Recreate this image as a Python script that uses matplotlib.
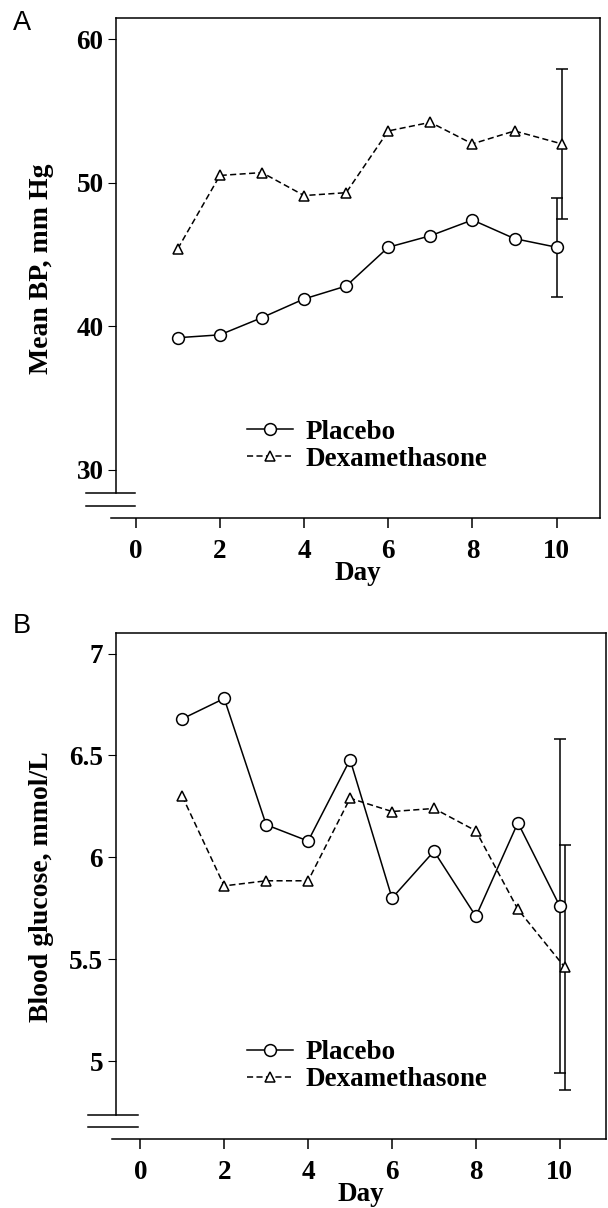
import numpy as np
import matplotlib
matplotlib.use('Agg')
import matplotlib.pyplot as plt

plt.rcParams['font.family'] = 'Liberation Serif'
plt.rcParams['font.weight'] = 'bold'

# data
days = [1, 2, 3, 4, 5, 6, 7, 8, 9, 10]
days_dexa = [1, 2, 3, 4, 5, 6, 7, 8, 9, 10.12]

bp_placebo = [39.2, 39.4, 40.6, 41.9, 42.8, 45.5, 46.3, 47.4, 46.1, 45.5]
bp_dexa = [45.4, 50.5, 50.7, 49.1, 49.3, 53.6, 54.2, 52.7, 53.6, 52.7]
bp_err_placebo = 3.45
bp_err_dexa = 5.2

glu_placebo = [6.68, 6.78, 6.16, 6.08, 6.48, 5.80, 6.03, 5.71, 6.17, 5.76]
glu_dexa = [6.30, 5.86, 5.885, 5.885, 6.29, 6.225, 6.24, 6.13, 5.745, 5.46]
glu_err_placebo = 0.82
glu_err_dexa = 0.60

xticks = [0, 2, 4, 6, 8, 10]
bp_ticks = [30, 40, 50, 60]
bp_ticklabels = ['30', '40', '50', '60']
glu_ticks = [5, 5.5, 6, 6.5, 7]
glu_ticklabels = ['5', '5.5', '6', '6.5', '7']

fig = plt.figure(figsize=(6.08, 12.08), dpi=100)

fs = 19.5
lw = 1.1


def panel(ax, yp, yd, ep, ed, xlim, ylim, spine_bot, breaks, brk_x, xline0,
          yticks, yticklabels, ylabel, ylab_x, leg_xy):
    ax.plot(days, yp, color='k', lw=lw, marker='o', ms=8.5, mfc='white',
            mec='k', mew=lw, label='Placebo', zorder=3)
    ax.plot(days_dexa, yd, color='k', lw=lw, ls=(0, (4, 2.2)), marker='^',
            ms=7.5, mfc='white', mec='k', mew=lw, label='Dexamethasone', zorder=3)
    ax.errorbar(days[-1], yp[-1], yerr=ep, fmt='none', ecolor='k',
                elinewidth=lw, capsize=4, capthick=lw)
    ax.errorbar(days_dexa[-1], yd[-1], yerr=ed, fmt='none', ecolor='k',
                elinewidth=lw, capsize=4, capthick=lw)
    ax.set_xlim(*xlim)
    ax.set_ylim(*ylim)
    ax.set_xticks(xticks)
    ax.set_xticklabels([str(t) for t in xticks], fontsize=fs, fontweight='bold')
    ax.set_yticks(yticks)
    ax.set_yticklabels(yticklabels, fontsize=fs, fontweight='bold')
    ax.tick_params(axis='x', direction='out', length=7, width=lw, pad=8)
    ax.tick_params(axis='y', direction='out', length=6, width=0.8, pad=3)
    for s in ['top', 'right', 'left']:
        ax.spines[s].set_linewidth(lw)
    ax.spines['bottom'].set_visible(False)
    ax.spines['left'].set_bounds(spine_bot, ylim[1])
    ax.plot([xline0, 1], [0, 0], transform=ax.transAxes, color='k', lw=lw,
            clip_on=False)
    tr = ax.get_yaxis_transform()
    for b in breaks:
        ax.plot(brk_x, [b, b], transform=tr, color='k', lw=lw, clip_on=False)
    ax.set_xlabel('Day', fontsize=fs, fontweight='bold', labelpad=-2)
    ax.set_ylabel(ylabel, fontsize=fs + 0.5, fontweight='bold')
    ax.yaxis.set_label_coords(ylab_x, 0.5)
    ax.legend(loc='center left', bbox_to_anchor=leg_xy, frameon=False,
              numpoints=1, handlelength=1.7, handletextpad=0.45,
              labelspacing=0.07, borderpad=0, borderaxespad=0,
              prop={'family': 'Liberation Serif', 'weight': 'bold', 'size': fs})


axA = fig.add_axes([0.1908, 0.5709, 0.9868 - 0.1908, 0.4139])
panel(axA, bp_placebo, bp_dexa, bp_err_placebo, bp_err_dexa,
      (-0.468, 11.03), (26.62, 61.44), 28.38, [28.38, 27.5], [-0.062, 0.039],
      -0.0103, bp_ticks, bp_ticklabels, 'Mean BP, mm Hg', -0.128, (0.2707, 0.1456))

axB = fig.add_axes([0.190, 0.05687, 0.9967 - 0.190, 0.4189])
panel(axB, glu_placebo, glu_dexa, glu_err_placebo, glu_err_dexa,
      (-0.591, 11.10), (4.616, 7.10), 4.736, [4.736, 4.674], [-0.056, 0.045],
      -0.0063, glu_ticks, glu_ticklabels, 'Blood glucose, mmol/L', -0.125, (0.268, 0.144))

fig.text(13 / 608, 1 - 10 / 1208, 'A', fontsize=19.5, family='Liberation Sans',
         fontweight='normal', va='top', ha='left')
fig.text(13 / 608, 1 - 613 / 1208, 'B', fontsize=19.5, family='Liberation Sans',
         fontweight='normal', va='top', ha='left')

fig.savefig('out.png', dpi=100)
